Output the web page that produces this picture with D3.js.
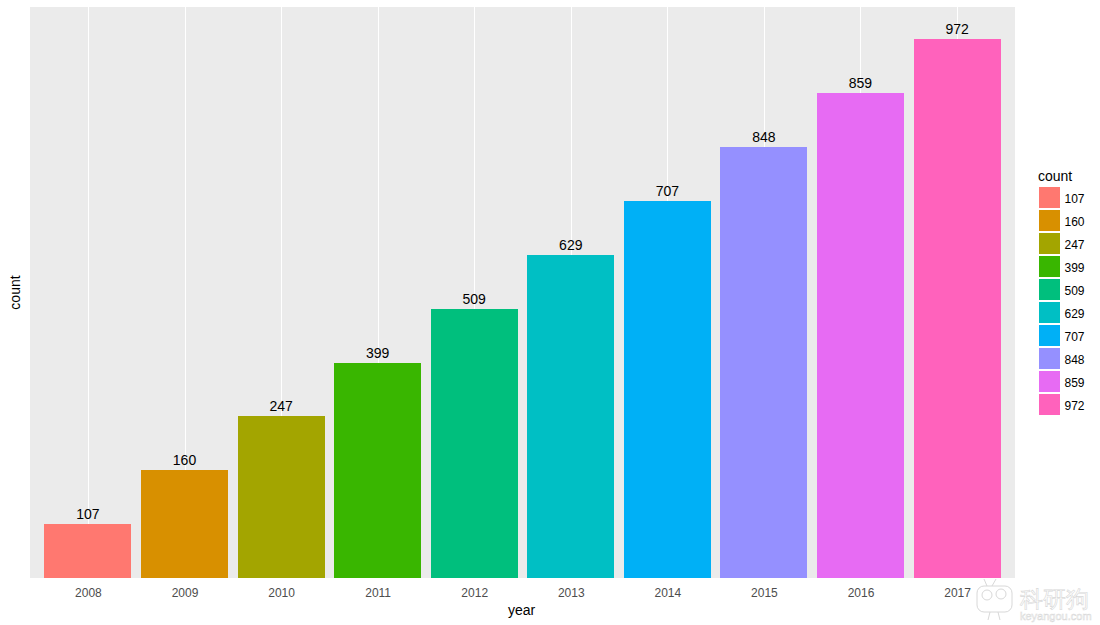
<!DOCTYPE html>
<html>
  <head>
    <meta charset="utf-8">
    <title>count by year</title>
    <script src="https://d3js.org/d3.v7.min.js"></script>
    <style>
      html, body { margin: 0; padding: 0; background: #fff; }
      text { font-family: "Liberation Sans", Arial, sans-serif; }
    </style>
  </head>

  <body>
    <svg id="chart" width="1100" height="625"></svg>
    <script>
      // data
      const years = ["2008", "2009", "2010", "2011", "2012", "2013", "2014", "2015", "2016", "2017"];
      const counts = ["107", "160", "247", "399", "509", "629", "707", "848", "859", "972"];
      const colours = ["#FF7870", "#D89000", "#A3A500", "#39B600", "#00BF7D", "#00BFC4", "#00B0F6", "#9590FF", "#E76BF3", "#FF62BC"];

      // panel edges
      const left = 30, right = 1015, top_ = 7, bottom = 578;

      const svg = d3.select("#chart");

      // x is discrete, 0.6 of a step each side like ggplot
      const step = (right - left) / (years.length - 1 + 1.2);
      const x = d3.scalePoint()
        .domain(years)
        .range([left + 0.6 * step, right - 0.6 * step]);

      // count is a factor here, so heights go by rank, not by value
      const y = d3.scalePoint()
        .domain(counts)
        .range([bottom - (bottom - top_) / 10.6, top_ + 0.6 * (bottom - top_) / 10.6]);

      const fill = d3.scaleOrdinal().domain(counts).range(colours);
      const barWidth = 0.9 * step;

      // panel
      svg.append("rect")
        .attr("x", left)
        .attr("y", top_)
        .attr("width", right - left)
        .attr("height", bottom - top_)
        .attr("fill", "#EBEBEB");

      // gridlines
      svg.selectAll(".grid")
        .data(years)
        .join("line")
          .attr("class", "grid")
          .attr("x1", d => Math.round(x(d)) + 0.5)
          .attr("x2", d => Math.round(x(d)) + 0.5)
          .attr("y1", top_)
          .attr("y2", bottom)
          .attr("stroke", "#fff")
          .attr("stroke-width", 1);

      // bars
      svg.selectAll(".bar")
        .data(years)
        .join("rect")
          .attr("class", "bar")
          .attr("x", d => x(d) - barWidth / 2)
          .attr("width", barWidth)
          .attr("y", (d, i) => y(counts[i]))
          .attr("height", (d, i) => bottom - y(counts[i]))
          .attr("fill", (d, i) => fill(counts[i]))
          .attr("shape-rendering", "crispEdges");

      // value labels
      svg.selectAll(".value")
        .data(years)
        .join("text")
          .attr("class", "value")
          .attr("x", d => x(d))
          .attr("y", (d, i) => y(counts[i]) - 5)
          .attr("text-anchor", "middle")
          .attr("font-size", 14)
          .attr("fill", "#000")
          .text((d, i) => counts[i]);

      // x axis, no domain line or ticks
      const xAxis = svg.append("g")
        .attr("transform", `translate(0,${bottom})`)
        .call(d3.axisBottom(x).tickSize(0).tickPadding(10));
      xAxis.select(".domain").remove();
      xAxis.selectAll("text")
        .attr("font-size", 12)
        .attr("font-family", "Liberation Sans")
        .attr("fill", "#4D4D4D");

      // axis titles
      svg.append("text")
        .attr("x", (left + right) / 2 - 1)
        .attr("y", 615)
        .attr("text-anchor", "middle")
        .attr("font-size", 14)
        .text("year");
      svg.append("text")
        .attr("transform", `translate(20,${(top_ + bottom) / 2}) rotate(-90)`)
        .attr("text-anchor", "middle")
        .attr("font-size", 14)
        .text("count");

      // legend
      const legendY = d3.scaleBand()
        .domain(counts)
        .range([186, 416]);
      svg.append("text")
        .attr("x", 1038)
        .attr("y", 181)
        .attr("font-size", 14)
        .text("count");
      svg.selectAll(".key")
        .data(counts)
        .join("rect")
          .attr("class", "key")
          .attr("x", 1039)
          .attr("y", d => legendY(d) + 1)
          .attr("width", 21)
          .attr("height", legendY.bandwidth() - 2)
          .attr("fill", d => fill(d))
          .attr("shape-rendering", "crispEdges");
      svg.selectAll(".key-label")
        .data(counts)
        .join("text")
          .attr("class", "key-label")
          .attr("x", 1064.5)
          .attr("y", d => legendY(d) + legendY.bandwidth() / 2 + 5.5)
          .attr("font-size", 12)
          .text(d => d);

      // watermark, bottom right corner
      const mark = svg.append("g")
        .attr("fill", "#fff")
        .attr("stroke", "#D8D8D8")
        .attr("stroke-width", 1);
      mark.append("rect")
        .attr("x", 977)
        .attr("y", 586)
        .attr("width", 35)
        .attr("height", 26)
        .attr("rx", 7);
      mark.append("path").attr("d", "M987 586L984 579M992 586L996 579");
      mark.append("circle").attr("cx", 987).attr("cy", 595).attr("r", 5);
      mark.append("circle").attr("cx", 1001).attr("cy", 594).attr("r", 5);
      mark.append("path").attr("d", "M990 612L988 620M998 612L1000 620");
      mark.append("text")
        .attr("x", 1020)
        .attr("y", 607)
        .attr("font-family", "Noto Sans CJK SC")
        .attr("font-size", 23)
        .attr("stroke-width", 0.6)
        .text("科研狗");
      mark.append("text")
        .attr("x", 1020)
        .attr("y", 620)
        .attr("font-size", 11)
        .attr("stroke-width", 0.5)
        .text("keyangou.com");
    </script>
  </body>
</html>
